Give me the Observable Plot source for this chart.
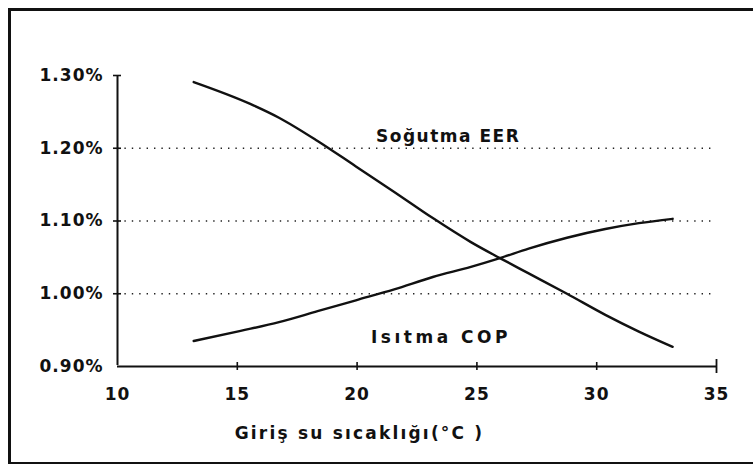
<!DOCTYPE html>
<html>
<head>
<meta charset="utf-8">
<script src="https://cdn.jsdelivr.net/npm/d3@7"></script>
<script src="https://cdn.jsdelivr.net/npm/@observablehq/plot@0.6"></script>
<style>
  html, body { margin: 0; padding: 0; background: #fff; overflow: hidden; }
  #wrap { position: relative; width: 753px; height: 468px; overflow: hidden; }
  .edge { position: absolute; background: #111; pointer-events: none; }
  #top { left: 8px; top: 8px; width: 745px; height: 2.5px; }
  #left { left: 8px; top: 8px; width: 2.5px; height: 456px; }
  #bottom { left: 8px; top: 461.5px; width: 745px; height: 2.5px; }
</style>
</head>
<body>
<div id="wrap"><div class="edge" id="top"></div><div class="edge" id="left"></div><div class="edge" id="bottom"></div></div>
<script>
// Data
const temps = [13.18, 15.54, 16.74, 18.35, 19.95, 21.55, 23.16, 24.75, 25.96, 27.16, 28.76, 30.36, 31.76, 33.17];
const eer   = [1.291, 1.261, 1.242, 1.210, 1.175, 1.140, 1.104, 1.071, 1.049, 1.028, 1.000, 0.971, 0.948, 0.927];
const copT  = [13.18, 15.14, 16.74, 18.35, 19.95, 21.55, 23.16, 24.75, 25.96, 27.16, 28.76, 30.36, 31.76, 33.17];
const cop   = [0.935, 0.949, 0.961, 0.976, 0.991, 1.006, 1.023, 1.037, 1.049, 1.062, 1.077, 1.089, 1.097, 1.103];

const xTicks = [10, 15, 20, 25, 30, 35];
const yTicks = [0.9, 1.0, 1.1, 1.2, 1.3];
const yTickLabels = ["0.90%", "1.00%", "1.10%", "1.20%", "1.30%"];
const gridValues = [1.0, 1.1, 1.2];

const seriesLabels = ["Soğutma EER", "Isıtma COP"];
const seriesLabelX = [23.8, 23.5];
const seriesLabelY = [1.216, 0.940];
const seriesLabelSpacing = ["1.5px", "3.5px"];

const xTitle = "Giriş su sıcaklığı(°C )";
const xTitlePos = {x: 20.1, y: 0.808};

const eerData = temps.map((t, i) => ({t, v: eer[i]}));
const copData = copT.map((t, i) => ({t, v: cop[i]}));
const labelData = seriesLabels.map((s, i) => ({s, x: seriesLabelX[i], y: seriesLabelY[i]}));

const font = "DejaVu Sans";
const chart = Plot.plot({
  width: 753,
  height: 468,
  marginLeft: 117,
  marginRight: 37,
  marginTop: 75,
  marginBottom: 102,
  style: {fontFamily: font, fontWeight: "bold", fontSize: "17px", color: "#111", background: "transparent", overflow: "visible"},
  x: {domain: [10, 35]},
  y: {domain: [0.9, 1.3]},
  marks: [
    Plot.ruleY(gridValues, {x1: 10, x2: 35, stroke: "#222", strokeWidth: 1.4, strokeDasharray: "1.4,6"}),
    // axis lines
    Plot.ruleX([10], {y1: 0.9, y2: 1.3, stroke: "#111", strokeWidth: 2, insetTop: -1}),
    Plot.ruleY([0.9], {x1: 10, x2: 35, stroke: "#111", strokeWidth: 2}),
    // tick marks crossing the axes
    Plot.ruleX(xTicks.slice(1, -1), {x: d => d, y1: 0.9, y2: 0.9, insetTop: -4, insetBottom: -4, stroke: "#111", strokeWidth: 1.6}),
    Plot.ruleX([35], {x: d => d, y1: 0.9, y2: 0.9, insetTop: -7, insetBottom: -7, stroke: "#111", strokeWidth: 1.8}),
    Plot.ruleY(yTicks.slice(1), {y: d => d, x1: 10, x2: 10, insetLeft: -4, insetRight: -4, stroke: "#111", strokeWidth: 1.6}),
    Plot.axisX({ticks: xTicks, tickSize: 0, tickPadding: 21, fontSize: 17, fontWeight: "bold", label: null}),
    Plot.axisY({ticks: yTicks, tickSize: 0, tickPadding: 14, fontSize: 17, fontWeight: "bold", label: null,
                tickFormat: d => yTickLabels[yTicks.findIndex(t => Math.abs(t - d) < 1e-9)]}),
    Plot.line(eerData, {x: "t", y: "v", curve: "monotone-x", stroke: "#111", strokeWidth: 2.4}),
    Plot.line(copData, {x: "t", y: "v", curve: "monotone-x", stroke: "#111", strokeWidth: 2.4}),
    Plot.text(labelData, {x: "x", y: "y", text: "s", fontSize: 17, fontWeight: "bold", fill: "#111"}),
    Plot.text([xTitle], {x: xTitlePos.x, y: xTitlePos.y, text: d => d, fontSize: 17, fontWeight: "bold", fill: "#111"})
  ]
});
chart.style.letterSpacing = "1px";
// letter spacing for the annotation texts
d3.select(chart).selectAll("text").each(function() {
  const t = this.textContent;
  const i = seriesLabels.indexOf(t);
  if (i >= 0) this.style.letterSpacing = seriesLabelSpacing[i];
  if (t === xTitle) this.style.letterSpacing = "2.2px";
});
document.getElementById("wrap").prepend(chart);
</script>
</body>
</html>
